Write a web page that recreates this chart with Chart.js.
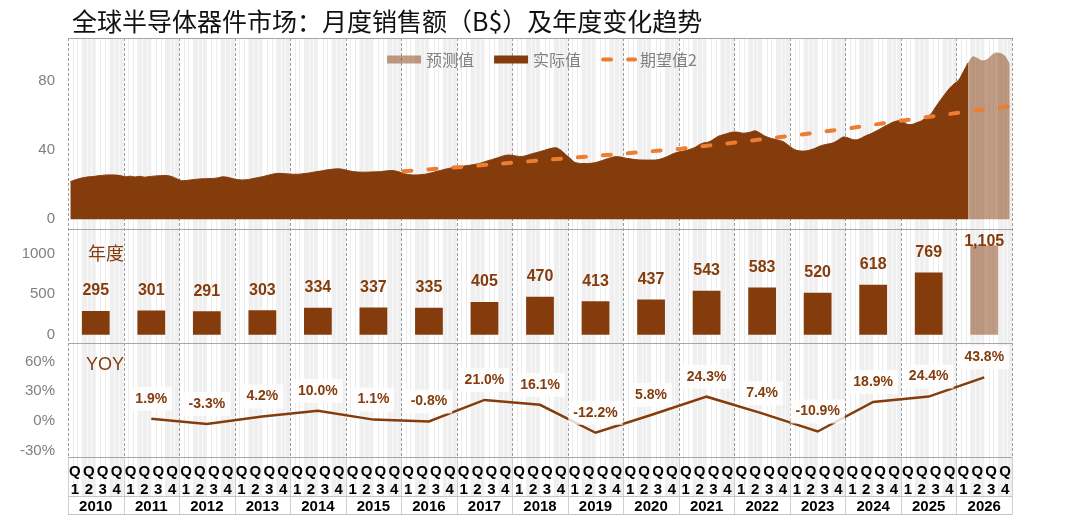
<!DOCTYPE html>
<html>
<head>
<meta charset="utf-8">
<script src="https://cdn.jsdelivr.net/npm/chart.js@4.4.1/dist/chart.umd.min.js"></script>
<style>
  html, body { margin: 0; padding: 0; background: #fff; }
  #wrap { position: relative; width: 1080px; height: 516px; }
  #title {
    position: absolute; left: 72px; top: 2px;
    font: 25px/36px "Noto Sans CJK SC", sans-serif; color: #111; white-space: nowrap;
  }
  #chart { position: absolute; left: 0; top: 0; }
</style>
</head>
<body>
<div id="wrap">
  <canvas id="chart" width="1080" height="516"></canvas>
  <div id="title">全球半导体器件市场：月度销售额（B$）及年度变化趋势</div>
</div>
<script>
// ---- data ----
const years = ['2010', '2011', '2012', '2013', '2014', '2015', '2016', '2017', '2018',
               '2019', '2020', '2021', '2022', '2023', '2024', '2025', '2026'];

// monthly sales (B$), Jan 2010 .. Mar 2026
const actualSales = [
  21.8, 22.8, 23.6, 24.2, 24.6, 24.8, 25.2, 25.5, 25.7, 25.7, 25.6, 25.2,   // 2010
  24.6, 25.0, 24.5, 24.9, 24.4, 24.7, 25.0, 25.2, 25.4, 25.3, 24.7, 23.5,   // 2011
  22.4, 22.5, 22.8, 23.1, 23.4, 23.5, 23.6, 23.7, 24.1, 24.6, 24.3, 23.6,   // 2012
  23.0, 22.8, 22.9, 23.3, 23.9, 24.4, 25.0, 25.7, 26.3, 26.6, 26.5, 26.3,   // 2013
  26.1, 26.1, 26.3, 26.6, 27.0, 27.5, 27.9, 28.4, 28.8, 29.1, 29.2, 28.9,   // 2014
  28.2, 27.7, 27.4, 27.3, 27.3, 27.4, 27.5, 27.6, 27.9, 28.2, 28.1, 27.5,   // 2015
  26.5, 26.0, 25.7, 25.7, 25.9, 26.3, 26.9, 27.6, 28.3, 29.0, 29.6, 30.0,   // 2016
  30.4, 30.8, 31.2, 31.6, 32.1, 32.8, 33.7, 34.5, 35.3, 36.2, 37.0, 37.2,   // 2017
  36.8, 36.4, 36.5, 37.3, 38.1, 38.8, 39.6, 40.4, 41.1, 41.4, 40.0, 37.6,   // 2018
  35.3, 33.0, 32.4, 32.3, 32.3, 32.6, 33.2, 34.1, 35.0, 35.8, 36.3, 36.0,   // 2019
  35.4, 35.0, 34.6, 34.4, 34.3, 34.3, 34.3, 34.5, 35.3, 36.3, 37.6, 38.6,   // 2020
  39.3, 39.8, 40.6, 41.6, 43.3, 44.3, 44.8, 46.3, 48.0, 48.9, 49.7, 50.4,   // 2021
  50.5, 50.0, 49.9, 50.5, 51.2, 50.0, 48.3, 47.2, 46.5, 45.8, 45.0, 43.2,   // 2022
  41.2, 39.9, 39.5, 39.6, 40.2, 41.2, 42.4, 43.2, 43.7, 44.4, 46.0, 47.6,   // 2023
  47.2, 46.2, 46.0, 47.1, 48.5, 49.5, 50.9, 52.3, 53.8, 55.2, 56.4, 57.0,   // 2024
  56.5, 54.9, 55.0, 56.0, 57.0, 59.0, 61.0, 65.0, 68.8, 72.4, 75.8, 78.4,   // 2025
  80.6, 85.5, 90.5                                                          // 2026
];
// forecast, Mar 2026 .. Dec 2026
const forecastSales = [90.5, 94.3, 93.4, 92.0, 92.4, 94.8, 96.5, 96.2, 94.6, 90.0];

// expectation line, January of each year 2016..2026, then Dec 2026
const expectedYears = [2016, 2017, 2018, 2019, 2020, 2021, 2022, 2023, 2024, 2025, 2026];
const expectedJan = [27.8, 30.2, 32.9, 35.5, 38.1, 40.9, 44.5, 48.4, 52.6, 57.2, 61.7];
const expectedEnd = 65.6;

const annualSales = [295, 301, 291, 303, 334, 337, 335, 405, 470, 413, 437, 543, 583, 520, 618, 769, 1105];
const yoyPct = [null, 1.9, -3.3, 4.2, 10.0, 1.1, -0.8, 21.0, 16.1, -12.2, 5.8, 24.3, 7.4, -10.9, 18.9, 24.4, 43.8];

const areaTicks = [0, 40, 80];
const barTicks = [0, 500, 1000];
const yoyTicks = [-30, 0, 30, 60];

const BROWN = '#843C0C';
const TAN = 'rgba(132, 60, 12, 0.5)';
const ORANGE = '#ED7D31';
const CJK = '"Noto Sans CJK SC", sans-serif';
const LATIN = '"Liberation Sans", Arial, sans-serif';

// ---- build tables ----
const monthLabels = [];
years.forEach(y => {
  for (let m = 1; m <= 12; m++) monthLabels.push(y + '-' + String(m).padStart(2, '0'));
});
const quarterLabels = [];
years.forEach(() => ['1', '2', '3', '4'].forEach(q => quarterLabels.push(['Q', q])));

const actualData = monthLabels.map((_, i) => i < actualSales.length ? actualSales[i] : null);
const forecastStart = actualSales.length - 1;
const forecastData = monthLabels.map((_, i) => i >= forecastStart ? forecastSales[i - forecastStart] : null);
const expectedData = monthLabels.map(() => null);
expectedYears.forEach((y, k) => { expectedData[(y - 2010) * 12] = expectedJan[k]; });
expectedData[monthLabels.length - 1] = expectedEnd;

// ---- plugins ----
const panelBackground = {
  id: 'panelBackground',
  beforeDraw(chart) {
    const { ctx, chartArea } = chart;
    const { xq, xy, yArea, yBar } = chart.scales;
    const left = chartArea.left, right = chartArea.right, top = chartArea.top;
    const qW = chartArea.width / quarterLabels.length;
    const mW = chartArea.width / monthLabels.length;
    const yW = chartArea.width / years.length;
    const px = v => Math.round(v) + 0.5;
    ctx.save();
    ctx.fillStyle = '#efefef';
    for (let i = 1; i < quarterLabels.length; i += 2) {
      ctx.fillRect(left + i * qW, top, qW, xq.bottom - top);
    }
    ctx.lineWidth = 1;
    for (let m = 1; m < monthLabels.length; m++) {
      if (m % 3 === 0) continue;
      const grey = Math.floor(m / 3) % 2 === 1;
      ctx.strokeStyle = grey ? '#f9f9f9' : '#ececec';
      const x = px(left + m * mW);
      ctx.beginPath(); ctx.moveTo(x, top); ctx.lineTo(x, xq.bottom); ctx.stroke();
    }
    // year separators
    ctx.strokeStyle = '#9c9c9c';
    ctx.setLineDash([3, 2]);
    for (let i = 0; i <= years.length; i++) {
      const x = px(left + i * yW);
      ctx.beginPath(); ctx.moveTo(x, top); ctx.lineTo(x, chartArea.bottom); ctx.stroke();
    }
    ctx.setLineDash([]);
    ctx.strokeStyle = '#cfcfcf';
    for (let i = 0; i <= years.length; i++) {
      const x = px(left + i * yW);
      ctx.beginPath(); ctx.moveTo(x, chartArea.bottom); ctx.lineTo(x, xy.bottom - 1); ctx.stroke();
    }
    // panel frames
    ctx.strokeStyle = '#a6a6a6';
    [top, yArea.bottom, yBar.bottom, chartArea.bottom].forEach(y => {
      ctx.beginPath(); ctx.moveTo(left, px(y)); ctx.lineTo(right, px(y)); ctx.stroke();
    });
    ctx.strokeStyle = '#c4c4c4';
    [xq.bottom, xy.bottom - 1].forEach(y => {
      ctx.beginPath(); ctx.moveTo(left, px(y) - 1); ctx.lineTo(right, px(y) - 1); ctx.stroke();
    });
    ctx.restore();
  }
};

const valueLabels = {
  id: 'valueLabels',
  afterDatasetsDraw(chart) {
    const { ctx } = chart;
    const { yBar, yYoy } = chart.scales;
    ctx.save();
    ctx.textAlign = 'center';
    ctx.textBaseline = 'middle';

    const barMeta = chart.getDatasetMeta(3);
    ctx.font = 'bold 16px ' + LATIN;
    ctx.fillStyle = BROWN;
    barMeta.data.forEach((bar, i) => {
      const y = Math.max(bar.y - 20, yBar.top + 13);
      ctx.fillText(annualSales[i].toLocaleString('en-US'), bar.x, y);
    });

    const yoyMeta = chart.getDatasetMeta(4);
    ctx.font = 'bold 14px ' + LATIN;
    yoyMeta.data.forEach((pt, i) => {
      if (yoyPct[i] === null) return;
      const text = yoyPct[i].toFixed(1) + '%';
      const w = ctx.measureText(text).width;
      const y = pt.y - 20;
      ctx.fillStyle = 'rgba(255, 255, 255, 0.8)';
      ctx.fillRect(pt.x - w / 2 - 5, y - 12, w + 10, 24);
      ctx.fillStyle = BROWN;
      ctx.fillText(text, pt.x, y);
    });

    ctx.textAlign = 'left';
    ctx.fillStyle = BROWN;
    ctx.font = '18px ' + CJK;
    ctx.fillText('年度', chart.chartArea.left + 20, yBar.top + 24);
    ctx.font = '18px ' + LATIN;
    ctx.fillText('YOY', chart.chartArea.left + 18, yYoy.top + 22);
    ctx.restore();
  }
};

const topLegend = {
  id: 'topLegend',
  afterDraw(chart) {
    const { ctx } = chart;
    const ds = chart.data.datasets;
    const items = [ds[1], ds[2], ds[0]];
    const sw = 34, gapText = 5, gapItem = 20, cy = chart.chartArea.top + 21.5;
    ctx.save();
    ctx.font = '16px ' + CJK;
    ctx.textBaseline = 'middle';
    const widths = items.map(d => sw + gapText + ctx.measureText(d.label).width);
    const total = widths.reduce((a, b) => a + b, 0) + gapItem * (items.length - 1);
    let x = 542 - total / 2;
    items.forEach((d, i) => {
      if (d.borderDash) {
        ctx.strokeStyle = d.borderColor;
        ctx.lineWidth = d.borderWidth;
        ctx.lineCap = 'round';
        ctx.setLineDash(d.borderDash);
        ctx.beginPath(); ctx.moveTo(x + 2, cy); ctx.lineTo(x + sw, cy); ctx.stroke();
        ctx.setLineDash([]);
      } else {
        ctx.fillStyle = d.backgroundColor;
        ctx.fillRect(x, cy - 4, sw, 8);
      }
      ctx.fillStyle = '#808080';
      ctx.fillText(d.label, x + sw + gapText, cy);
      x += widths[i] + gapItem;
    });
    ctx.restore();
  }
};

// ---- chart ----
const tickFont = { family: LATIN, size: 15 };

new Chart(document.getElementById('chart').getContext('2d'), {
  type: 'line',
  data: {
    labels: monthLabels,
    datasets: [
      {
        label: '期望值2', data: expectedData, xAxisID: 'x', yAxisID: 'yArea',
        spanGaps: true, fill: false, borderColor: ORANGE, borderWidth: 4,
        borderDash: [8, 17], borderCapStyle: 'round', pointRadius: 0
      },
      {
        label: '预测值', data: forecastData, xAxisID: 'x', yAxisID: 'yArea',
        fill: 'origin', backgroundColor: TAN, borderColor: 'rgba(0,0,0,0)', borderWidth: 0,
        pointRadius: 0, tension: 0.3
      },
      {
        label: '实际值', data: actualData, xAxisID: 'x', yAxisID: 'yArea',
        fill: 'origin', backgroundColor: BROWN, borderColor: BROWN, borderWidth: 1,
        pointRadius: 0, tension: 0.3
      },
      {
        type: 'bar', label: '年度', data: annualSales, xAxisID: 'xy', yAxisID: 'yBar',
        backgroundColor: annualSales.map((v, i) => i === annualSales.length - 1 ? TAN : BROWN),
        grouped: false, barPercentage: 0.5, categoryPercentage: 1
      },
      {
        label: 'YOY', data: yoyPct, xAxisID: 'xy', yAxisID: 'yYoy',
        fill: false, borderColor: BROWN, borderWidth: 2.5, pointRadius: 0
      }
    ]
  },
  options: {
    responsive: false,
    animation: false,
    events: [],
    layout: { padding: { top: 38, left: 0, right: 68, bottom: 0 } },
    plugins: { legend: { display: false }, tooltip: { enabled: false } },
    scales: {
      x: { type: 'category', display: false, offset: true, weight: 0 },
      xq: {
        type: 'category', labels: quarterLabels, position: 'bottom', offset: true, weight: 1,
        grid: { display: false, drawTicks: false }, border: { display: false },
        ticks: { autoSkip: false, maxRotation: 0, padding: 6, color: '#000',
                 font: { family: LATIN, size: 15, weight: 'bold', lineHeight: 1.18 } },
        afterFit: s => { s.height = 40; }
      },
      xy: {
        type: 'category', labels: years, position: 'bottom', offset: true, weight: 2,
        grid: { display: false, drawTicks: false }, border: { display: false },
        ticks: { autoSkip: false, maxRotation: 0, padding: 1, color: '#000',
                 font: { family: LATIN, size: 15, weight: 'bold', lineHeight: 1.18 } },
        afterFit: s => { s.height = 19; }
      },
      yArea: {
        type: 'linear', position: 'left', stack: 'panels', stackWeight: 191, weight: 3,
        min: -5.5, max: 104.9,
        afterBuildTicks: s => { s.ticks = areaTicks.map(v => ({ value: v })); },
        afterFit: s => { s.width = 68; },
        grid: { display: false, drawTicks: false }, border: { display: false },
        ticks: { padding: 13, color: '#7f7f7f', font: tickFont }
      },
      yBar: {
        type: 'linear', position: 'left', stack: 'panels', stackWeight: 114.3, weight: 2,
        min: -102.5, max: 1308.6,
        afterBuildTicks: s => { s.ticks = barTicks.map(v => ({ value: v })); },
        afterFit: s => { s.width = 68; },
        grid: { display: false, drawTicks: false }, border: { display: false },
        ticks: { padding: 13, color: '#7f7f7f', font: tickFont, callback: v => String(v) }
      },
      yYoy: {
        type: 'linear', position: 'left', stack: 'panels', stackWeight: 114, weight: 1,
        min: -36.7, max: 78.5,
        afterBuildTicks: s => { s.ticks = yoyTicks.map(v => ({ value: v })); },
        afterFit: s => { s.width = 68; },
        grid: { display: false, drawTicks: false }, border: { display: false },
        ticks: { padding: 13, color: '#7f7f7f', font: tickFont, callback: v => v + '%' }
      }
    }
  },
  plugins: [panelBackground, valueLabels, topLegend]
});
</script>
</body>
</html>
